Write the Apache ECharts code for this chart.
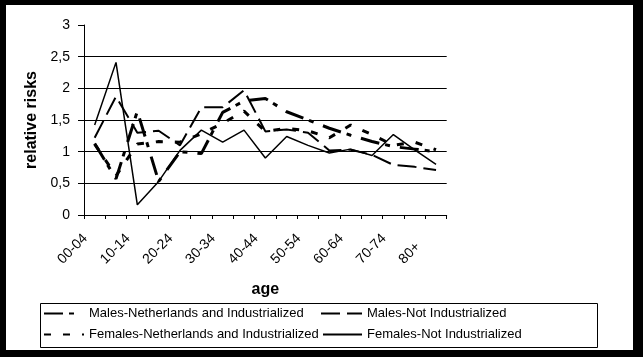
<!DOCTYPE html>
<html>
<head>
<meta charset="utf-8">
<script src="https://cdn.jsdelivr.net/npm/echarts@6/dist/echarts.min.js"></script>
<style>
html,body{margin:0;padding:0;background:#000;}
#chart{width:643px;height:357px;}
</style>
</head>
<body>
<div id="chart"></div>
<script>
const categories = ['00-04','05-09','10-14','15-19','20-24','25-29','30-34','35-39','40-44','45-49','50-54','55-59','60-64','65-69','70-74','75-79','80+'];
const seriesNames = ['Males-Netherlands and Industrialized','Males-Not Industrialized','Females-Netherlands and Industrialized','Females-Not Industrialized'];
const malesNL   = [1.13, 0.57, 1.64, 0.53, 1.00, 0.97, 1.62, 1.80, 1.84, 1.63, 1.50, 1.37, 1.26, 1.16, 1.08, 1.04, 1.00];
const malesNI   = [1.22, 1.87, 1.30, 1.33, 1.10, 1.70, 1.70, 1.97, 1.32, 1.35, 1.30, 1.02, 1.03, 0.95, 0.79, 0.76, 0.71];
const femalesNL = [1.12, 0.62, 1.12, 1.16, 1.15, 1.28, 1.45, 1.64, 1.32, 1.37, 1.33, 1.22, 1.42, 1.27, 1.10, 1.15, 1.03];
const femalesNI = [1.42, 2.41, 0.16, 0.53, 1.02, 1.34, 1.15, 1.34, 0.90, 1.24, 1.10, 0.98, 1.04, 0.94, 1.27, 1.03, 0.80];
const yMin = 0, yMax = 3, yStep = 0.5;

const FONT = "'Liberation Sans', Arial, sans-serif";
const chart = echarts.init(document.getElementById('chart'), null, {renderer: 'canvas'});

function legendItem(name, left, top, w) {
  return {
    data: [name], left: left, top: top, padding: 0, itemWidth: w, itemHeight: 14,
    selectedMode: false,
    itemStyle: {color: 'rgba(0,0,0,0)', borderWidth: 0, opacity: 0},
    textStyle: {fontFamily: FONT, fontSize: 13, color: '#000'}
  };
}

const option = {
  backgroundColor: '#000',
  animation: false,
  graphic: [
    {type: 'rect', z: -100, silent: true, shape: {x: 6, y: 5, width: 627, height: 345}, style: {fill: '#fff'}},
    {type: 'rect', z: 100, silent: true, shape: {x: 40.5, y: 303.5, width: 557, height: 44}, style: {fill: 'none', stroke: '#000', lineWidth: 1}}
  ],
  grid: {left: 84, top: 25, width: 362.7, height: 190, containLabel: false, outerBoundsMode: 'none'},
  legend: [
    legendItem(seriesNames[0], 43, 307, 40),
    legendItem(seriesNames[1], 320, 307, 41),
    legendItem(seriesNames[2], 43, 328, 40),
    legendItem(seriesNames[3], 322, 328, 39)
  ],
  xAxis: {
    type: 'category', data: categories, boundaryGap: true,
    name: 'age', nameLocation: 'middle', nameGap: 67,
    nameTextStyle: {fontFamily: FONT, fontSize: 16, fontWeight: 'bold', color: '#000'},
    axisLine: {show: true, lineStyle: {color: '#000', width: 1}},
    axisTick: {show: true, interval: 0, length: 4, lineStyle: {color: '#000'}},
    axisLabel: {
      interval: 1, rotate: 45, margin: 12, color: '#000',
      fontFamily: FONT, fontSize: 14, padding: [0, 13, 0, 0],
      formatter: v => '{a|' + v + '}',
      rich: {a: {width: 36, align: 'left', fontFamily: FONT, fontSize: 14, color: '#000'}}
    },
    splitLine: {show: false}
  },
  yAxis: {
    type: 'value', min: yMin, max: yMax, interval: yStep,
    name: 'relative risks', nameLocation: 'middle', nameGap: 40, nameRotate: 90,
    nameTextStyle: {fontFamily: FONT, fontSize: 16, fontWeight: 'bold', color: '#000'},
    axisLine: {show: true, lineStyle: {color: '#000', width: 1}},
    axisTick: {show: true, length: 6, lineStyle: {color: '#000'}},
    axisLabel: {margin: 14, color: '#000', fontFamily: FONT, fontSize: 14,
      formatter: v => String(v).replace('.', ',')},
    splitLine: {show: true, lineStyle: {color: ['#000','#000','#000','#000','#000','#000','rgba(0,0,0,0)'], width: 1}}
  },
  series: [
    {name: seriesNames[0], type: 'line', data: malesNL, symbol: 'none', showSymbol: false, z: 3,
     lineStyle: {color: '#000', width: 3, type: [19, 6, 5, 10]}, itemStyle: {color: '#000'}},
    {name: seriesNames[1], type: 'line', data: malesNI, symbol: 'none', showSymbol: false, z: 3,
     lineStyle: {color: '#000', width: 2, type: [19, 7]}, itemStyle: {color: '#000'}},
    {name: seriesNames[2], type: 'line', data: femalesNL, symbol: 'none', showSymbol: false, z: 3,
     lineStyle: {color: '#000', width: 3, type: [7, 12]}, itemStyle: {color: '#000'}},
    {name: seriesNames[3], type: 'line', data: femalesNI, symbol: 'none', showSymbol: false, z: 3,
     lineStyle: {color: '#000', width: 1.5, type: 'solid'}, itemStyle: {color: '#000'}}
  ]
};
chart.setOption(option);
</script>
</body>
</html>
